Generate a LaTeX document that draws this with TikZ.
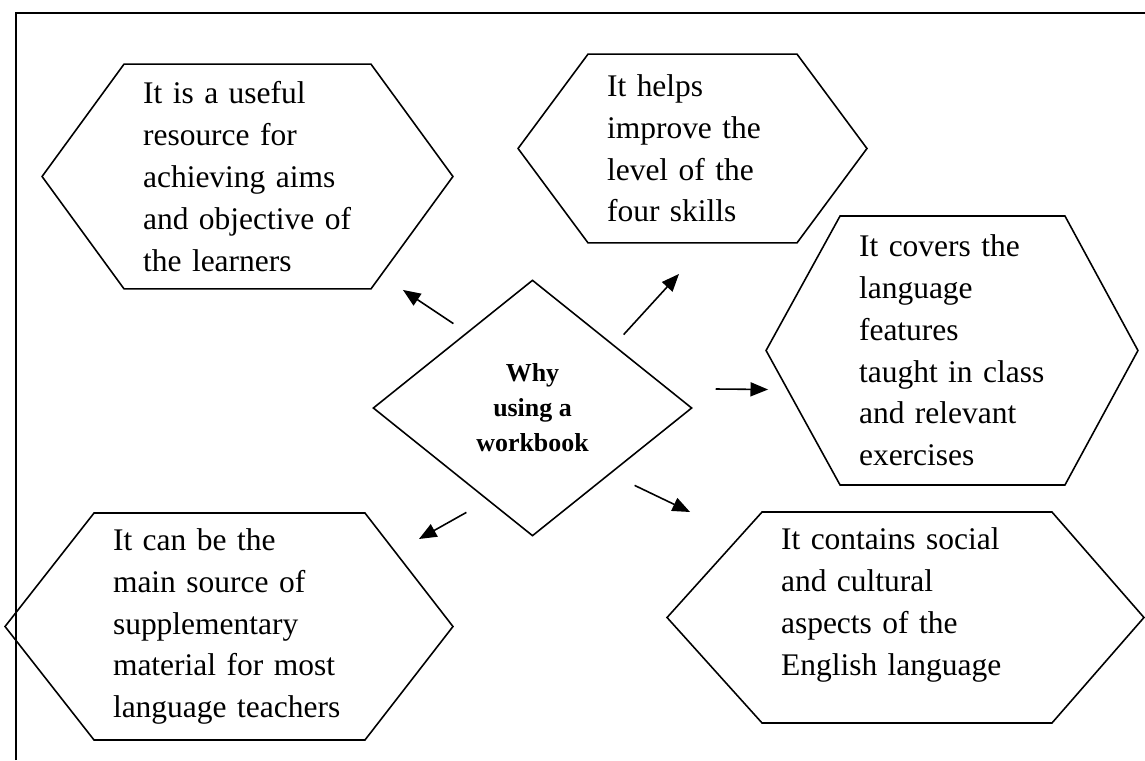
\documentclass[tikz,border=0pt]{standalone}
\usepackage{fontspec}
\setmainfont{Liberation Serif}
\usepackage{tikz}
\usetikzlibrary{positioning,shapes.geometric,arrows.meta}
\tikzstyle{arrow} = [line width=0.9pt,-{Triangle[length=10pt,width=8pt]}]

\begin{document}
\begin{tikzpicture}[x=0.02cm,y=-0.02cm]
	\tikzstyle{hexbox} = [rectangle, align=left, inner xsep=10.8pt, inner ysep=0pt, outer sep=0pt, font=\fontsize{17.92pt}{23.8pt}\selectfont];
	\tikzstyle{hexline} = [line width=0.9pt, line join=miter];
	\useasboundingbox (0,0) rectangle (1145,760);
	\draw [line width=1.3pt] (16,760) -- (16,13) -- (1145,13);
	\node (why) [diamond, draw, line width=0.9pt, inner sep=0pt, minimum width=181.5pt, minimum height=145.7pt, align=center, font=\bfseries\fontsize{14.75pt}{19.9pt}\selectfont] at (532.5,408) {Why\\using a\\workbook};
	\node (aims) [hexbox, text width=118.9pt, minimum height=128pt] at (247.5,176.5) {It is a useful\\resource for\\achieving aims\\and objective of\\the learners};
	\node (skills) [hexbox, text width=97.3pt, minimum height=107.5pt] at (692.5,148.5) {It helps\\improve the\\level of the\\four skills};
	\node (features) [hexbox, text width=106.4pt, minimum height=153.1pt] at (952.5,350.5) {It covers the\\language\\features\\taught in class\\and relevant\\exercises};
	\node (source) [hexbox, text width=132.6pt, minimum height=129.2pt] at (229.5,626.5) {It can be the\\main source of\\supplementary\\material for most\\language teachers};
	\node (culture) [hexbox, text width=143.4pt, minimum height=120.1pt, text height=12.2pt, text depth=89.1pt] at (907,617.5) {It contains social\\and cultural\\aspects of the\\English language};
	% hexagon outlines round the text boxes
	\foreach \n/\l/\r in {aims/82/82, skills/70/70, features/74/73, source/89/88, culture/95/92}
		\draw [hexline] (\n.north west) -- (\n.north east) -- ([shift={(\r,0)}]\n.east) -- (\n.south east) -- (\n.south west) -- ([shift={(-\l,0)}]\n.west) -- cycle;
	\draw [arrow] ([shift={(1,-20)}]why.north west) -- ([shift={(32,1)}]aims.south east);
	\draw [arrow] ([shift={(11,-9)}]why.north east) -- ([shift={(-13.5,31)}]skills.south);
	\draw [arrow] ([shift={(23,-19)}]why.east) -- ([shift={(-72,39)}]features.west);
	\draw [arrow] ([shift={(22,13)}]why.south east) -- ([shift={(-72,0)}]culture.north west);
	\draw [arrow] ([shift={(14,40)}]why.south west) -- ([shift={(54,26)}]source.north east);
\end{tikzpicture}
\end{document}
